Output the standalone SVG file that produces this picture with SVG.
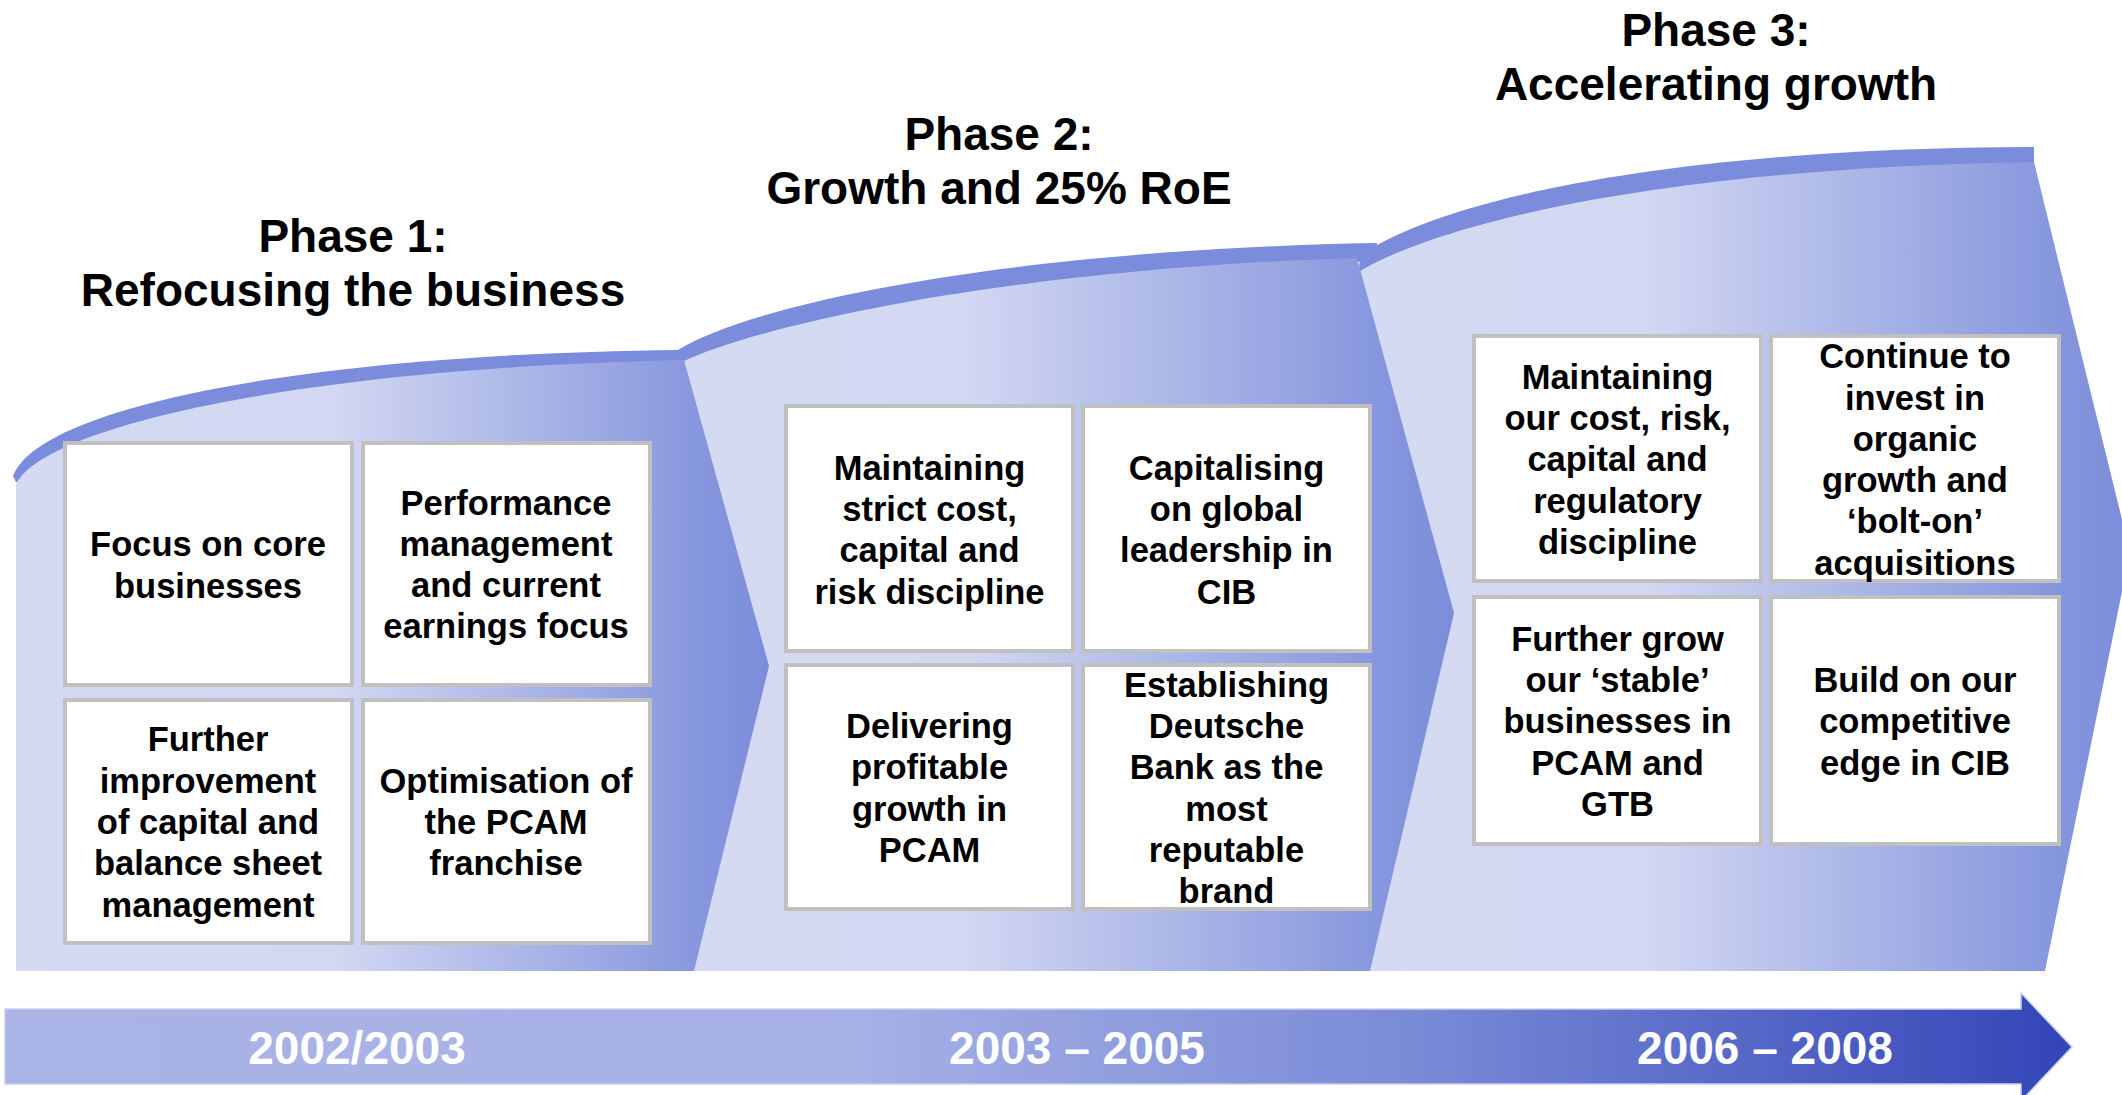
<svg xmlns="http://www.w3.org/2000/svg" width="2122" height="1095" viewBox="0 0 2122 1095">
<defs>
<linearGradient id="g1" gradientUnits="userSpaceOnUse" x1="16" y1="0" x2="769" y2="0">
<stop offset="0" stop-color="#d5daf3"/><stop offset="0.42" stop-color="#d3d8f2"/><stop offset="0.9" stop-color="#8898de"/><stop offset="1" stop-color="#7b8cda"/>
</linearGradient>
<linearGradient id="g2" gradientUnits="userSpaceOnUse" x1="684" y1="0" x2="1454" y2="0">
<stop offset="0" stop-color="#d5daf3"/><stop offset="0.36" stop-color="#d3d8f2"/><stop offset="0.89" stop-color="#8898de"/><stop offset="1" stop-color="#7b8cda"/>
</linearGradient>
<linearGradient id="g3" gradientUnits="userSpaceOnUse" x1="1357" y1="0" x2="2130" y2="0">
<stop offset="0" stop-color="#d5daf3"/><stop offset="0.37" stop-color="#d3d8f2"/><stop offset="0.89" stop-color="#8898de"/><stop offset="1" stop-color="#7b8cda"/>
</linearGradient>
<linearGradient id="gy" gradientUnits="userSpaceOnUse" x1="0" y1="0" x2="2072" y2="0">
<stop offset="0" stop-color="#a9b3e6"/><stop offset="0.4" stop-color="#a8b2e6"/><stop offset="0.68" stop-color="#7a8bd7"/><stop offset="1" stop-color="#3345b7"/>
</linearGradient>
</defs>
<style>
.band{fill:#7a8cdb}
.box{fill:#ffffff;stroke:#c0c0c0;stroke-width:4}
.bt{font-family:"Liberation Sans",Arial,sans-serif;font-weight:bold;font-size:34.5px;fill:#000;text-anchor:middle}
.title{font-family:"Liberation Sans",Arial,sans-serif;font-weight:bold;font-size:46px;fill:#000;text-anchor:middle}
.year{font-family:"Liberation Sans",Arial,sans-serif;font-weight:bold;font-size:46px;fill:#ffffff;text-anchor:middle}
</style>
<rect x="0" y="0" width="2122" height="1095" fill="#ffffff"/>

<g id="phase3">
<path class="band" d="M 1360 256 C 1430 205 1650 148 2034 147 L 2034 163 L 1357 300 Z"/>
<path fill="url(#g3)" d="M 1357 273 C 1432 226 1652 168 2034 162 L 2130 552 L 2045 971 L 1357 971 Z"/>
</g>
<g id="phase2">
<path class="band" d="M 678 350 C 750 305 1000 250 1377 243 L 1377 258 L 684 400 Z"/>
<path fill="url(#g2)" d="M 684 361 C 762 325 1005 269 1357 258 L 1454 613 L 1370 971 L 684 971 Z"/>
</g>
<g id="phase1">
<path class="band" d="M 13 476 C 38 408 300 354 680 350 L 684 362 L 684 400 L 16 482 Z"/>
<path fill="url(#g1)" d="M 16 484 C 46 425 307 368 684 360 L 769 666 L 694 971 L 16 971 Z"/>
</g>

<g id="titles">
<text class="title" x="353" y="252">Phase 1:</text>
<text class="title" x="353" y="306">Refocusing the business</text>
<text class="title" x="999" y="150">Phase 2:</text>
<text class="title" x="999" y="204">Growth and 25% RoE</text>
<text class="title" x="1716" y="46">Phase 3:</text>
<text class="title" x="1716" y="100">Accelerating growth</text>
</g>

<g id="p1a"><rect class="box" x="65" y="443" width="287" height="242"/>
<text class="bt"><tspan x="208" y="556">Focus on core</tspan><tspan x="208" y="598">businesses</tspan></text></g>
<g id="p1b"><rect class="box" x="363" y="443" width="287" height="242"/>
<text class="bt"><tspan x="506" y="515">Performance</tspan><tspan x="506" y="556">management</tspan><tspan x="506" y="597">and current</tspan><tspan x="506" y="638">earnings focus</tspan></text></g>
<g id="p1c"><rect class="box" x="65" y="700" width="287" height="243"/>
<text class="bt"><tspan x="208" y="751">Further</tspan><tspan x="208" y="793">improvement</tspan><tspan x="208" y="834">of capital and</tspan><tspan x="208" y="875">balance sheet</tspan><tspan x="208" y="917">management</tspan></text></g>
<g id="p1d"><rect class="box" x="363" y="700" width="287" height="243"/>
<text class="bt"><tspan x="506" y="793">Optimisation of</tspan><tspan x="506" y="834">the PCAM</tspan><tspan x="506" y="875">franchise</tspan></text></g>

<g id="p2a"><rect class="box" x="786" y="406" width="287" height="245"/>
<text class="bt"><tspan x="929.5" y="480">Maintaining</tspan><tspan x="929.5" y="521">strict cost,</tspan><tspan x="929.5" y="562">capital and</tspan><tspan x="929.5" y="604">risk discipline</tspan></text></g>
<g id="p2b"><rect class="box" x="1083" y="406" width="287" height="245"/>
<text class="bt"><tspan x="1226.5" y="480">Capitalising</tspan><tspan x="1226.5" y="521">on global</tspan><tspan x="1226.5" y="562">leadership in</tspan><tspan x="1226.5" y="604">CIB</tspan></text></g>
<g id="p2c"><rect class="box" x="786" y="665" width="287" height="244"/>
<text class="bt"><tspan x="929.5" y="738">Delivering</tspan><tspan x="929.5" y="779">profitable</tspan><tspan x="929.5" y="821">growth in</tspan><tspan x="929.5" y="862">PCAM</tspan></text></g>
<g id="p2d"><rect class="box" x="1083" y="665" width="287" height="244"/>
<text class="bt"><tspan x="1226.5" y="697">Establishing</tspan><tspan x="1226.5" y="738">Deutsche</tspan><tspan x="1226.5" y="779">Bank as the</tspan><tspan x="1226.5" y="821">most</tspan><tspan x="1226.5" y="862">reputable</tspan><tspan x="1226.5" y="903">brand</tspan></text></g>

<g id="p3a"><rect class="box" x="1474" y="336" width="287" height="245"/>
<text class="bt"><tspan x="1617.5" y="389">Maintaining</tspan><tspan x="1617.5" y="430">our cost, risk,</tspan><tspan x="1617.5" y="471">capital and</tspan><tspan x="1617.5" y="513">regulatory</tspan><tspan x="1617.5" y="554">discipline</tspan></text></g>
<g id="p3b"><rect class="box" x="1771" y="336" width="288" height="245"/>
<text class="bt"><tspan x="1915" y="368">Continue to</tspan><tspan x="1915" y="410">invest in</tspan><tspan x="1915" y="451">organic</tspan><tspan x="1915" y="492">growth and</tspan><tspan x="1915" y="533">‘bolt-on’</tspan><tspan x="1915" y="575">acquisitions</tspan></text></g>
<g id="p3c"><rect class="box" x="1474" y="597" width="287" height="247"/>
<text class="bt"><tspan x="1617.5" y="651">Further grow</tspan><tspan x="1617.5" y="692">our ‘stable’</tspan><tspan x="1617.5" y="733">businesses in</tspan><tspan x="1617.5" y="775">PCAM and</tspan><tspan x="1617.5" y="816">GTB</tspan></text></g>
<g id="p3d"><rect class="box" x="1771" y="597" width="288" height="247"/>
<text class="bt"><tspan x="1915" y="692">Build on our</tspan><tspan x="1915" y="733">competitive</tspan><tspan x="1915" y="775">edge in CIB</tspan></text></g>

<g id="timeline">
<path fill="url(#gy)" stroke="#c9cff0" stroke-width="1.5" d="M 5 1009 L 2021 1009 L 2021 993 L 2072 1047 L 2021 1101 L 2021 1084 L 5 1084 Z"/>
<text class="year" x="357" y="1064">2002/2003</text>
<text class="year" x="1077" y="1064">2003 – 2005</text>
<text class="year" x="1765" y="1064">2006 – 2008</text>
</g>
<g id="connectors"/>
</svg>
